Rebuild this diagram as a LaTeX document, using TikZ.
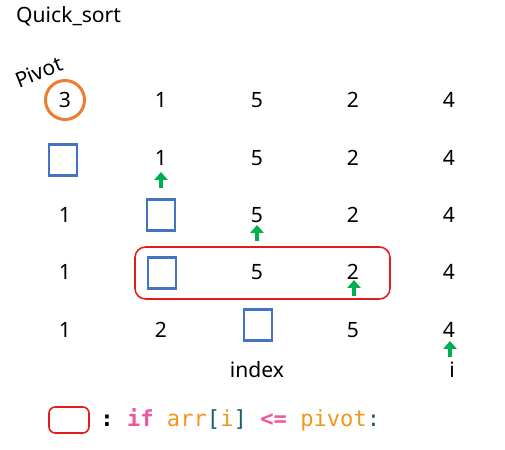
\documentclass[tikz,border=0pt]{standalone}
\usepackage{fontspec}
\setmainfont{Noto Sans}
\setmonofont{DejaVu Sans Mono}
\usetikzlibrary{arrows.meta}
\definecolor{pivotorange}{HTML}{ED7D31}
\definecolor{boxblue}{HTML}{4472C4}
\definecolor{arrowgreen}{HTML}{00B050}
\definecolor{rangered}{HTML}{E31B1B}
\definecolor{kwpink}{HTML}{F0569A}
\definecolor{varorange}{HTML}{F0961E}
\definecolor{brteal}{HTML}{1F5F6B}
\begin{document}
\begin{tikzpicture}[x=0.02cm, y=-0.02cm,
		num/.style = {font=\fontsize{12}{14}\selectfont},
		slot/.style = {draw=boxblue, line width=1.2pt, minimum width=0.56cm, minimum height=0.62cm, inner sep=0pt},
		pivotmark/.style = {draw=pivotorange, line width=1.7pt, circle, minimum size=0.78cm, inner sep=0pt},
		pointer/.style = {draw=arrowgreen, line width=2.4pt, -{Triangle[length=4.5pt, width=7.5pt]}},
		scan/.style = {draw=rangered, line width=0.9pt, rounded corners=6pt}]
	\useasboundingbox (0,0) rectangle (505,450);
	\node [num, anchor=base west] (title) at (10,22) {Quick\_sort};
	\node [num, rotate=22, inner sep=0pt] (pivotlabel) at (39,72) {Pivot};
	% row 1
	\node [num, pivotmark] (r1c1) at (65,100) {3};
	\node [num] (r1c2) at (161,100) {1};
	\node [num] (r1c3) at (257,100) {5};
	\node [num] (r1c4) at (353,100) {2};
	\node [num] (r1c5) at (449,100) {4};
	% row 2
	\node [slot] (r2c1) at (63,160) {};
	\node [num] (r2c2) at (161,158) {1};
	\node [num] (r2c3) at (257,158) {5};
	\node [num] (r2c4) at (353,158) {2};
	\node [num] (r2c5) at (449,158) {4};
	% row 3
	\node [num] (r3c1) at (65,215) {1};
	\node [slot] (r3c2) at (161,215) {};
	\node [num] (r3c3) at (257,215) {5};
	\node [num] (r3c4) at (353,215) {2};
	\node [num] (r3c5) at (449,215) {4};
	% row 4
	\node [num] (r4c1) at (65,272) {1};
	\node [slot] (r4c2) at (162,273) {};
	\node [num] (r4c3) at (257,272) {5};
	\node [num] (r4c4) at (353,272) {2};
	\node [num] (r4c5) at (449,272) {4};
	\draw [scan] (135,247) rectangle (390,299);
	% row 5
	\node [num] (r5c1) at (65,330) {1};
	\node [num] (r5c2) at (161,330) {2};
	\node [slot] (r5c3) at (258,325) {};
	\node [num] (r5c4) at (353,330) {5};
	\node [num] (r5c5) at (449,330) {4};
	\node [num] (index) at (257,370) {index};
	\node [num] (ilabel) at (452,370) {i};
	% pointers
	\coordinate (p2) at (161,188);
	\coordinate (p3) at (257,241);
	\coordinate (p4) at (354,296);
	\coordinate (p5) at (450,357);
	\draw [pointer] (p2) -- ++(0,-16);
	\draw [pointer] (p3) -- ++(0,-16);
	\draw [pointer] (p4) -- ++(0,-16);
	\draw [pointer] (p5) -- ++(0,-16);
	% legend
	\draw [scan, rounded corners=3.5pt] (49,407) rectangle (89,433);
	\node [anchor=base west, inner sep=0pt, font=\ttfamily\fontsize{12.6}{14}\selectfont] (rule) at (100,426)
		{\textbf{:} \textcolor{kwpink}{\textbf{if}} \textcolor{varorange}{arr}\textcolor{brteal}{[}\textcolor{varorange}{i}\textcolor{brteal}{]} \textcolor{kwpink}{\textbf{<=}} \textcolor{varorange}{pivot}\textcolor{brteal}{:}};
\end{tikzpicture}
\end{document}
